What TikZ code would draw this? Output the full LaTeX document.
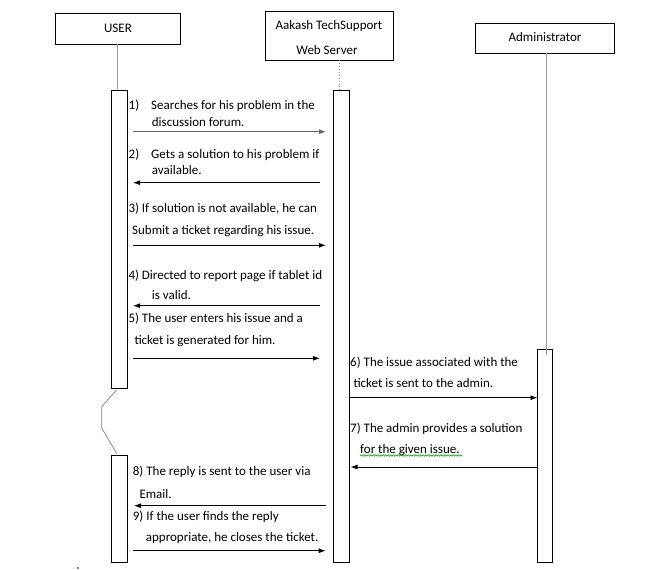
\documentclass[tikz,border=0pt]{standalone}
\usepackage{fontspec}
\setmainfont{Carlito}
\usetikzlibrary{arrows.meta,decorations.pathmorphing}
\begin{document}
\begin{tikzpicture}[x=1pt,y=-1pt,
  every node/.style={font=\fontsize{13}{15}\selectfont},
  actor/.style={draw,line width=0.9pt,inner sep=0,align=center},
  lbl/.style={anchor=west,inner sep=0,text height=10.5pt,text depth=2.5pt},
  act/.style={draw,line width=0.9pt,fill=white},
  msg/.style={line width=0.9pt,-{Latex[length=7pt,width=5pt]}},
  life/.style={draw=gray!80,line width=0.8pt}]
\useasboundingbox (0,0) rectangle (672,570);
% actors
\draw[line width=0.9pt] (55,13.3) rectangle (180.5,44.3);
\node (user) at (118,28) {USER};
\draw[line width=0.9pt] (265.3,11.7) rectangle (393,60.3);
\node (srv1) at (329,26) {Aakash TechSupport};
\node (srv2) at (327,50.5) {Web Server};
\draw[line width=0.9pt] (475,23.3) rectangle (614,53.3);
\node (adm) at (545,36.7) {Administrator};
% lifelines
\coordinate (ul0) at (117,44.3); \coordinate (ul1) at (117,90);
\draw[life] (ul0) -- (ul1);
\coordinate (sl0) at (339.5,60.3); \coordinate (sl1) at (339.5,90);
\draw[gray,line width=0.9pt,dotted] (sl0) -- (sl1);
\coordinate (al0) at (546,53.3); \coordinate (al1) at (546,355);
\draw[life] (al0) -- (al1);
% activations
\draw[act] (111.7,90) rectangle (127.3,388);
\draw[act] (333.3,90) rectangle (349.3,562);
\draw[act] (537.5,349.3) rectangle (552.5,562);
\draw[life] (al0) -- (al1);
\draw[act] (111.5,455) rectangle (127.3,562);
% break zigzag
\coordinate (z0) at (116.5,390); \coordinate (z1) at (101.7,406.7);
\coordinate (z2) at (101.7,428); \coordinate (z3) at (116.7,453.5);
\draw[gray,line width=0.7pt] (z0) -- (z1) -- (z2) -- (z3);
% messages
\node[lbl] (t1a) at (128.5,105.7) {1)\hspace{12pt}Searches for his problem in the};
\node[lbl] (t1b) at (151.7,122.3) {discussion forum.};
\coordinate (m1a) at (133,131.7); \coordinate (m1b) at (326,131.7);
\draw[msg,gray!80!black] (m1a) -- (m1b);
\node[lbl] (t2a) at (128.5,154) {2)\hspace{12pt}Gets a solution to his problem if};
\node[lbl] (t2b) at (151.7,170) {available.};
\coordinate (m2a) at (320,182.7); \coordinate (m2b) at (133,182.7);
\draw[msg] (m2a) -- (m2b);
\node[lbl] (t3a) at (128.3,208) {3) If solution is not available, he can};
\node[lbl] (t3b) at (132,230) {Submit a ticket regarding his issue.};
\coordinate (m3a) at (133,245.3); \coordinate (m3b) at (326,245.3);
\draw[msg] (m3a) -- (m3b);
\node[lbl] (t4a) at (128.3,275) {4) Directed to report page if tablet id};
\node[lbl] (t4b) at (151.7,295.7) {is valid.};
\coordinate (m4a) at (320,305.7); \coordinate (m4b) at (133,305.7);
\draw[msg] (m4a) -- (m4b);
\node[lbl] (t5a) at (128.3,318) {5) The user enters his issue and a};
\node[lbl] (t5b) at (134.3,340.5) {ticket is generated for him.};
\coordinate (m5a) at (133,358.3); \coordinate (m5b) at (320,358.3);
\draw[msg] (m5a) -- (m5b);
\node[lbl] (t6a) at (350,362.7) {6) The issue associated with the};
\node[lbl] (t6b) at (353.3,383.3) {ticket is sent to the admin.};
\coordinate (m6a) at (349.3,397.7); \coordinate (m6b) at (537.5,397.7);
\draw[msg] (m6a) -- (m6b);
\node[lbl] (t7a) at (350,428.3) {7) The admin provides a solution};
\node[lbl] (t7b) at (360,449) {for the given issue.};
\coordinate (w0) at (360,455.5); \coordinate (w1) at (462,455.5);
\draw[green!55!black,line width=0.5pt,decorate,decoration={snake,amplitude=0.8pt,segment length=2.5pt}] (w0) -- (w1);
\coordinate (m7a) at (537.5,467); \coordinate (m7b) at (350.5,467);
\draw[msg] (m7a) -- (m7b);
\node[lbl] (t8a) at (132.7,471.7) {8) The reply is sent to the user via};
\node[lbl] (t8b) at (139.3,494) {Email.};
\coordinate (m8a) at (325.7,505.7); \coordinate (m8b) at (134,505.7);
\draw[msg] (m8a) -- (m8b);
\node[lbl] (t9a) at (132.7,516) {9) If the user finds the reply};
\node[lbl] (t9b) at (145.7,537.3) {appropriate, he closes the ticket.};
\coordinate (m9a) at (132.7,550.7); \coordinate (m9b) at (325.7,550.7);
\draw[msg] (m9a) -- (m9b);
% stray dot
\node[circle,fill=black,inner sep=0,minimum size=1.8pt] (dot) at (78,568) {};
\end{tikzpicture}
\end{document}
